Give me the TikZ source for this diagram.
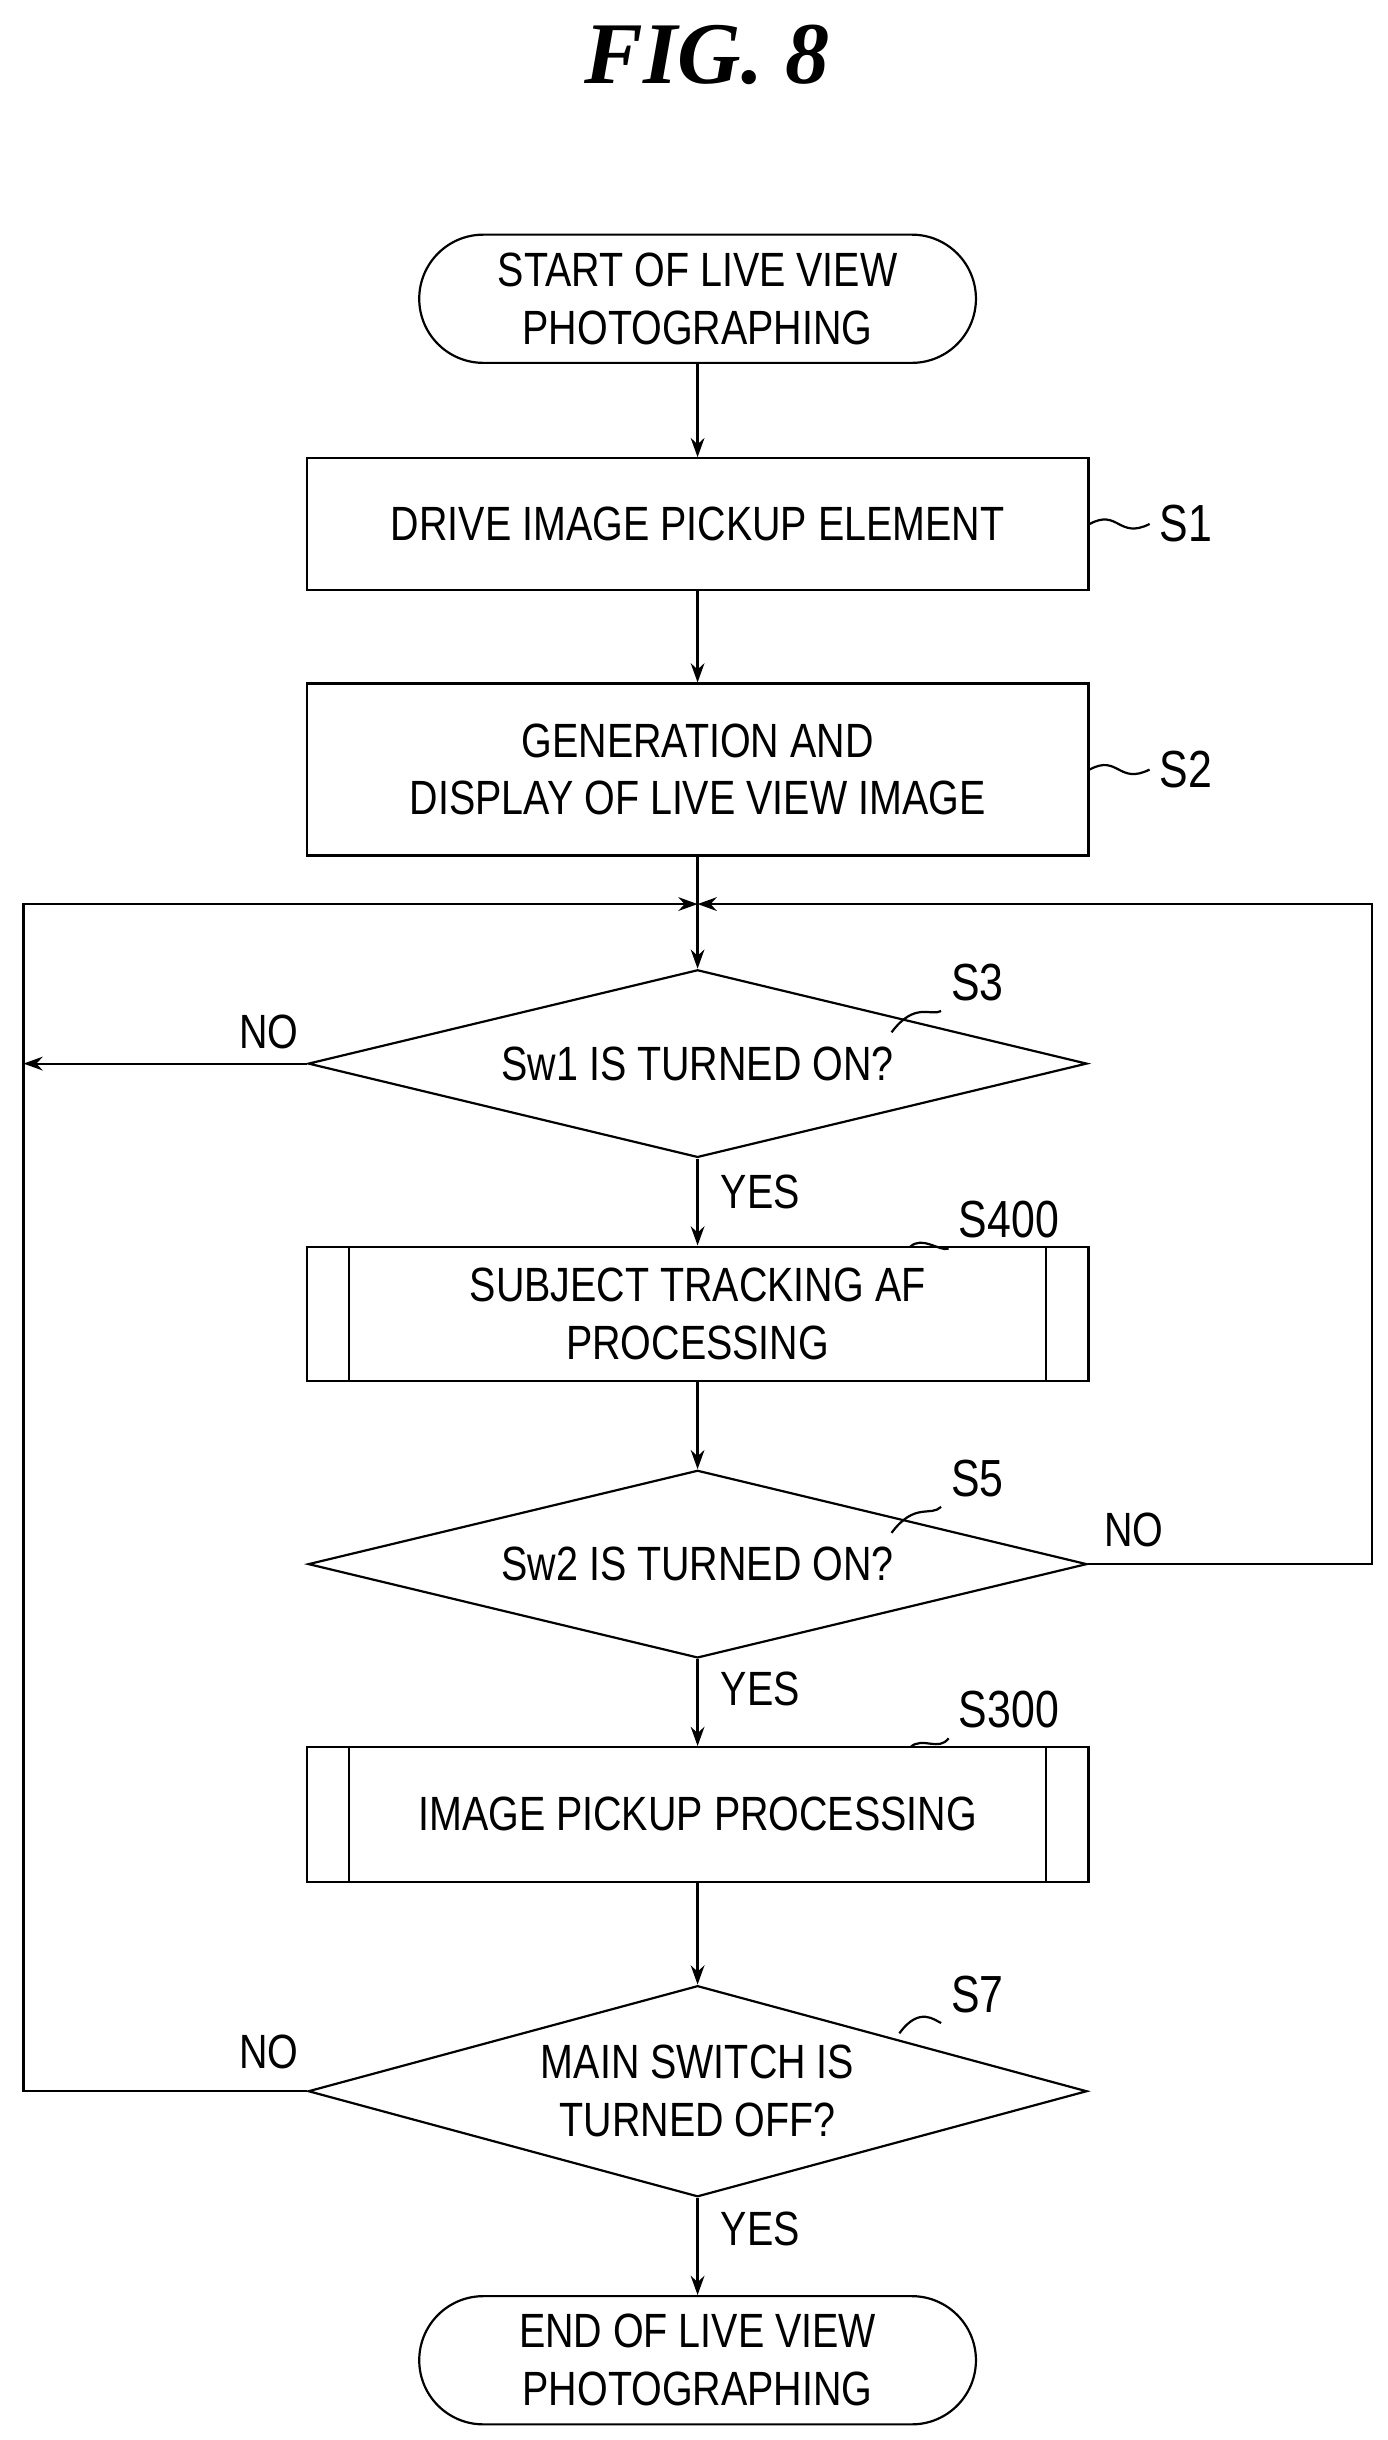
\documentclass[tikz,border=0pt]{standalone}
\usepackage{fontspec}
\setmainfont{Liberation Sans}[FakeStretch=0.82]
\newfontfamily\titlefont{Liberation Serif}
\usetikzlibrary{shapes.geometric,arrows.meta}
\begin{document}
\begin{tikzpicture}[x=0.02cm,y=-0.02cm,line width=0.8pt,font=\fontsize{17.5}{21}\selectfont,
  proc/.style={draw,rectangle,minimum width=10cm,align=center},
  term/.style={draw,rounded corners=0.82cm,minimum width=7.12cm,minimum height=1.64cm,align=center},
  dec/.style={draw,diamond,aspect=4,minimum width=9.96cm,minimum height=2.4cm,inner sep=0pt,align=center},
  arr/.style={-{Stealth[length=7pt,width=5pt]}},
  tag/.style={font=\fontsize{19}{22}\selectfont}]
\useasboundingbox (0,0) rectangle (887,1560);
\node[font=\fontsize{32}{36}\titlefont\bfseries\itshape] (title) at (452,35) {FIG. 8};
% flow
\node[term] (start) at (446,191) {START OF LIVE VIEW\\PHOTOGRAPHING};
\node[proc,minimum height=1.68cm] (s1) at (446,335) {DRIVE IMAGE PICKUP ELEMENT};
\node[proc,minimum height=2.2cm] (s2) at (446,492) {GENERATION AND\\DISPLAY OF LIVE VIEW IMAGE};
\coordinate (merge) at (446,578);
\node[dec] (s3) at (446,680) {Sw1 IS TURNED ON?};
\node[proc,minimum height=1.72cm] (s400) at (446,840) {SUBJECT TRACKING AF\\PROCESSING};
\node[dec] (s5) at (446,1000) {Sw2 IS TURNED ON?};
\node[proc,minimum height=1.72cm] (s300) at (446,1160) {IMAGE PICKUP PROCESSING};
\node[dec,minimum height=2.7cm] (s7) at (446,1337) {MAIN SWITCH IS\\TURNED OFF?};
\node[term] (stop) at (446,1509) {END OF LIVE VIEW\\PHOTOGRAPHING};
% subroutine bars
\foreach \p in {s400,s300}{
  \draw ([xshift=0.56cm]\p.north west) -- ([xshift=0.56cm]\p.south west);
  \draw ([xshift=-0.56cm]\p.north east) -- ([xshift=-0.56cm]\p.south east);
}
% connectors
\draw[arr] (start) -- (s1);
\draw[arr] (s1) -- (s2);
\draw (s2) -- (merge);
\draw[arr] (merge) -- (s3);
\draw[arr] (s3) -- (s400);
\draw[arr] (s400) -- (s5);
\draw[arr] (s5) -- (s300);
\draw[arr] (s300) -- (s7);
\draw[arr] (s7) -- (stop);
\draw[arr] (s3.west) -- (15,680);
\draw[arr] (s7.west) -- (15,1337) -- (15,578) -- (merge);
\draw[arr] (s5.east) -- (877,1000) -- (877,578) -- (merge);
% labels
\node (no3) at (172,660) {NO};
\node (no5) at (725,978) {NO};
\node (no7) at (172,1312) {NO};
\node (yes3) at (486,762) {YES};
\node (yes5) at (486,1080) {YES};
\node (yes7) at (486,1425) {YES};
% step tags
\node[tag,anchor=west] (t1) at (735,335) {S1};
\node[tag,anchor=west] (t2) at (735,492) {S2};
\node[tag] (t3) at (625,628) {S3};
\node[tag] (t400) at (645,780) {S400};
\node[tag] (t5) at (625,945) {S5};
\node[tag] (t300) at (645,1093) {S300};
\node[tag] (t7) at (625,1275) {S7};
\draw (s1.east) .. controls (715,325) and (715,345) .. (t1.west);
\draw (s2.east) .. controls (715,482) and (715,502) .. (t2.west);
\draw (570,660) .. controls (585,640) and (595,650) .. (t3.south west);
\draw (582,797) .. controls (590,790) and (600,800) .. (t400.south west);
\draw (570,980) .. controls (585,960) and (595,970) .. (t5.south west);
\draw (582,1117) .. controls (590,1110) and (600,1120) .. (t300.south west);
\draw (575,1300) .. controls (588,1282) and (598,1292) .. (t7.south west);
\end{tikzpicture}
\end{document}
